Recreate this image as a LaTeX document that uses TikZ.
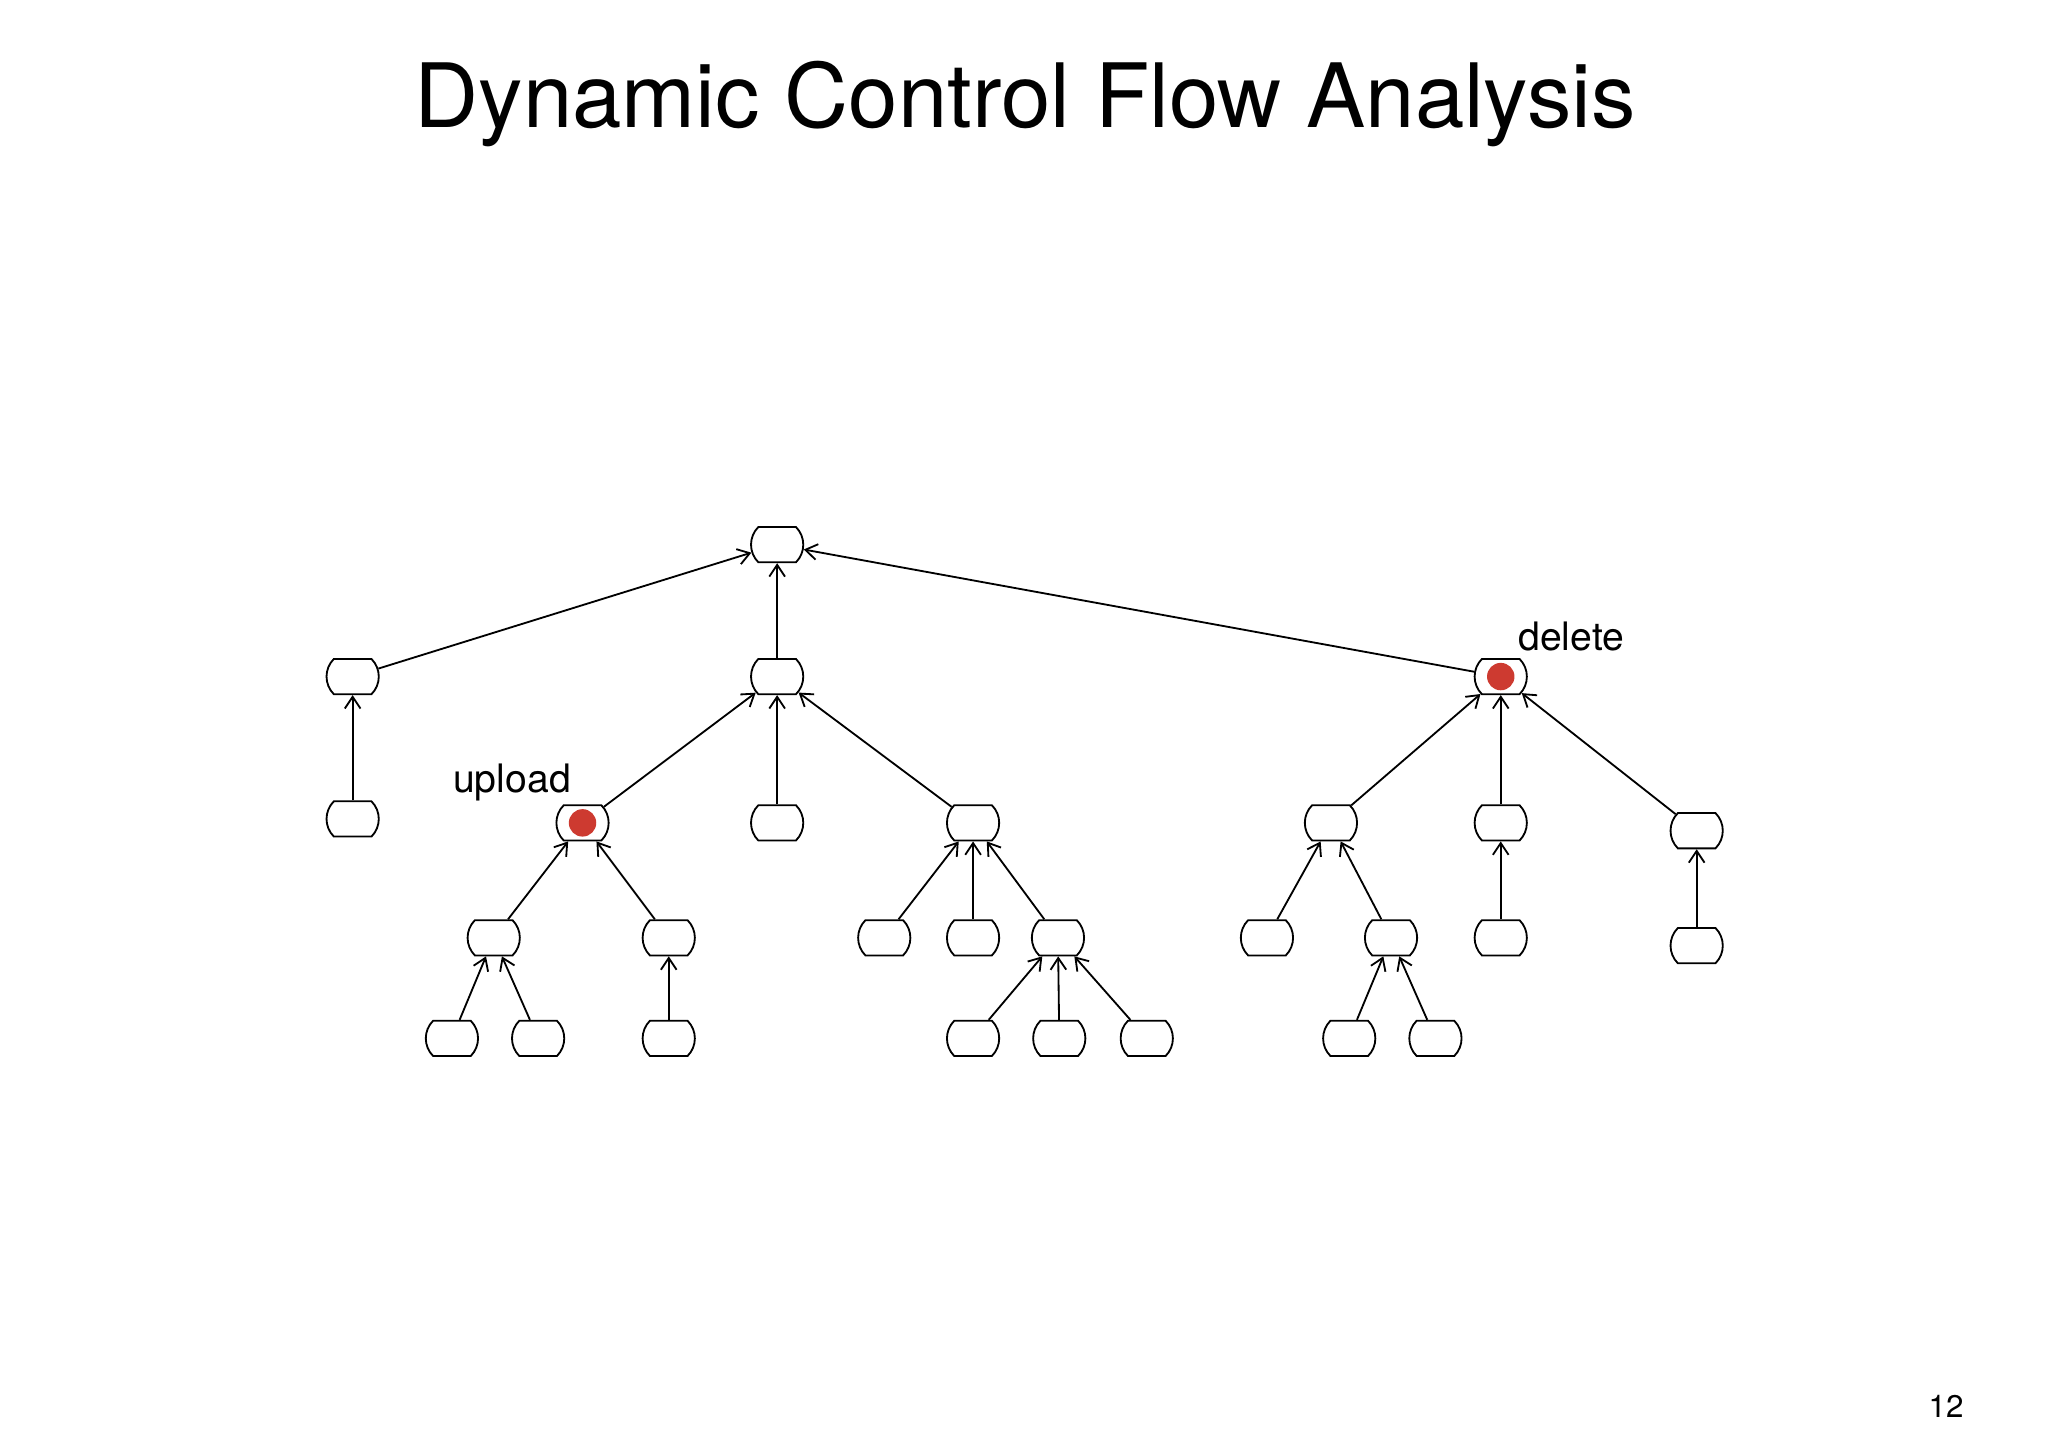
\documentclass[tikz,border=0pt]{standalone}
\usepackage{fontspec}
\setmainfont{TeX Gyre Heros}
\usetikzlibrary{arrows.meta,shapes,positioning}
\definecolor{dotred}{RGB}{205,58,48}
\tikzset{
	fn/.style={draw,line width=1.4pt,rounded rectangle,rounded rectangle arc length=90,minimum width=40pt,minimum height=27pt,inner sep=0pt},
	up/.style={line width=1.4pt,-{Straight Barb[length=9pt,width=12pt]}},
	hit/.style={circle,fill=dotred,minimum size=21pt,inner sep=0pt}
}
\begin{document}
\begin{tikzpicture}[x=1pt,y=-1pt]
\useasboundingbox (0,0) rectangle (1568,1108);
\node at (785,80) {\fontsize{68}{80}\selectfont Dynamic Control Flow Analysis};
\node at (1490,1077) {\fontsize{24}{28}\selectfont 12};
% call tree
\node[fn] (root) at (595,417) {};
\node[fn] (a) at (270,518) {};
\node[fn] (b) at (595,518) {};
\node[fn] (del) at (1149,518) {};
\node[fn] (a1) at (270,627) {};
\node[fn] (upl) at (446,630) {};
\node[fn] (b2) at (595,630) {};
\node[fn] (b3) at (745,630) {};
\node[fn] (u1) at (378,718) {};
\node[fn] (u2) at (512,718) {};
\node[fn] (u11) at (346,795) {};
\node[fn] (u12) at (412,795) {};
\node[fn] (u21) at (512,795) {};
\node[fn] (m1) at (677,718) {};
\node[fn] (m2) at (745,718) {};
\node[fn] (m3) at (810,718) {};
\node[fn] (m31) at (745,795) {};
\node[fn] (m32) at (811,795) {};
\node[fn] (m33) at (878,795) {};
\node[fn] (d1) at (1019,630) {};
\node[fn] (d2) at (1149,630) {};
\node[fn] (d3) at (1299,636) {};
\node[fn] (d11) at (970,718) {};
\node[fn] (d12) at (1065,718) {};
\node[fn] (d121) at (1033,795) {};
\node[fn] (d122) at (1099,795) {};
\node[fn] (d21) at (1149,718) {};
\node[fn] (d31) at (1299,724) {};
% hits
\node[hit] (hu) at (upl) {};
\node[hit] (hd) at (del) {};
\node (lu) at (392,599) {\fontsize{30}{36}\selectfont upload};
\node (ld) at (1203,487) {\fontsize{30}{36}\selectfont delete};
\foreach \c/\p in {a/root,b/root,del/root,a1/a,upl/b,b2/b,b3/b,u1/upl,u2/upl,u11/u1,u12/u1,u21/u2,m1/b3,m2/b3,m3/b3,m31/m3,m32/m3,m33/m3,d1/del,d2/del,d3/del,d11/d1,d12/d1,d121/d12,d122/d12,d21/d2,d31/d3}
	\draw[up] (\c) -- (\p);
\end{tikzpicture}
\end{document}
